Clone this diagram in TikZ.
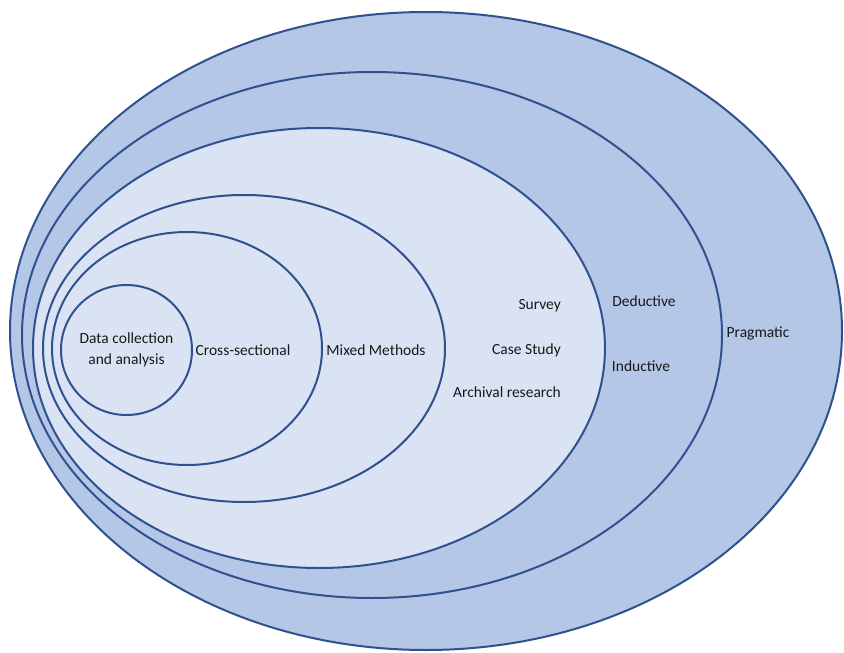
\documentclass[tikz,border=0pt]{standalone}
\usepackage{fontspec}
\setmainfont{Carlito}
\usetikzlibrary{shapes.geometric}
\definecolor{ringmid}{HTML}{B4C7E7}
\definecolor{ringlight}{HTML}{DAE3F3}
\definecolor{ringline}{HTML}{2F528F}
\tikzset{
  ring/.style={ellipse, draw=ringline, line width=2pt, inner sep=0pt},
  lbl/.style={font=\fontsize{15.5}{18.5}\selectfont, text=black!90, inner sep=0pt}
}
\begin{document}
\begin{tikzpicture}[x=1pt,y=-1pt]
\useasboundingbox[fill=white] (0,0) rectangle (844,653);
\node[ring, fill=ringmid, minimum width=832pt, minimum height=638pt] (pragmatic) at (426,331) {};
\node[ring, fill=ringmid, minimum width=700pt, minimum height=526pt] (approach) at (372,335) {};
\node[ring, fill=ringlight, minimum width=572pt, minimum height=440pt] (strategy) at (319,348) {};
\node[ring, fill=ringlight, minimum width=402pt, minimum height=307pt] (choice) at (244,348.5) {};
\node[ring, fill=ringlight, minimum width=270pt, minimum height=233pt] (horizon) at (187,348.5) {};
\node[ring, fill=ringlight, minimum width=131pt, minimum height=130pt] (data) at (126.5,350) {};
\node[lbl, align=center] (tdata) at (126.5,350) {Data collection\\[2pt]and analysis};
\node[lbl] (tcross) at (243,350) {Cross-sectional};
\node[lbl] (tmixed) at (376,350) {Mixed Methods};
\node[lbl, anchor=east] (tsurvey) at (561,306) {Survey};
\node[lbl, anchor=east] (tcase) at (561,350) {Case Study};
\node[lbl, anchor=east] (tarch) at (561,392) {Archival research};
\node[lbl] (tded) at (644,301) {Deductive};
\node[lbl] (tind) at (641,366) {Inductive};
\node[lbl] (tprag) at (758,333) {Pragmatic};
\end{tikzpicture}
\end{document}
